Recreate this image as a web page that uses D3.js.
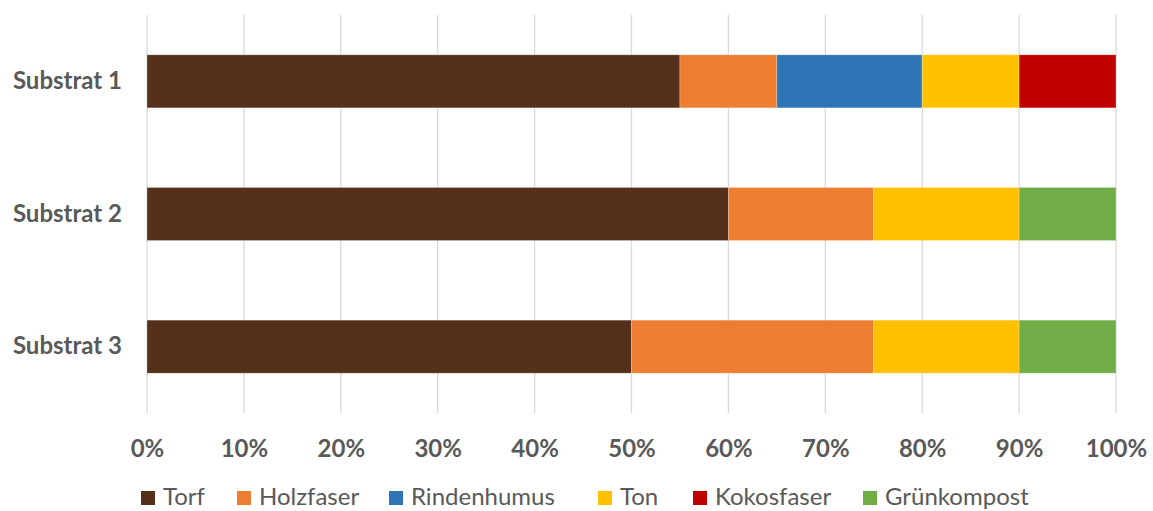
<!DOCTYPE html>
<html>
<head>
<meta charset="utf-8">
<script src="https://cdn.jsdelivr.net/npm/d3@7"></script>
<style>
  html, body { margin: 0; padding: 0; background: #fff; }
  svg { display: block; }
  text { font-family: Lato, "Open Sans", sans-serif; }
</style>
</head>
<body>
<svg id="chart" width="1153" height="511"></svg>
<script>
// Substrate composition, share of each component in percent
const categories = ["Substrat 1", "Substrat 2", "Substrat 3"];
const components = ["Torf", "Holzfaser", "Rindenhumus", "Ton", "Kokosfaser", "Grünkompost"];
const torf        = [55, 60, 50];
const holzfaser   = [10, 15, 25];
const rindenhumus = [15, 0, 0];
const ton         = [10, 15, 15];
const kokosfaser  = [10, 0, 0];
const gruenkompost = [0, 10, 10];
const colors = ["#55301A", "#ED7D31", "#2E75B6", "#FFC000", "#C00000", "#70AD47"];
const tickValues = [0, 10, 20, 30, 40, 50, 60, 70, 80, 90, 100];

const seriesValues = [torf, holzfaser, rindenhumus, ton, kokosfaser, gruenkompost];
const rows = categories.map((c, i) => {
  const r = { category: c };
  components.forEach((k, j) => { r[k] = seriesValues[j][i]; });
  return r;
});

const svg = d3.select("#chart");
const plotLeft = 147, plotRight = 1116, plotTop = 15, plotBottom = 413;
const fontSize = 24;

const x = d3.scaleLinear().domain([0, 100]).range([plotLeft, plotRight]);
const y = d3.scaleBand().domain(categories).range([plotTop, plotBottom]).paddingInner(0.6).paddingOuter(0.3);

// vertical gridlines
svg.append("g")
  .selectAll("line")
  .data(tickValues)
  .join("line")
  .attr("x1", d => x(d)).attr("x2", d => x(d))
  .attr("y1", plotTop).attr("y2", plotBottom)
  .attr("stroke", "#D9D9D9").attr("stroke-width", 1.3);

// stacked bars
const stack = d3.stack().keys(components)(rows);
const color = d3.scaleOrdinal().domain(components).range(colors);

svg.append("g")
  .selectAll("g")
  .data(stack)
  .join("g")
  .attr("fill", d => color(d.key))
  .selectAll("rect")
  .data(d => d.filter(p => p[1] > p[0]))
  .join("rect")
  .attr("x", d => x(d[0]))
  .attr("width", d => x(d[1]) - x(d[0]))
  .attr("y", d => y(d.data.category))
  .attr("height", y.bandwidth())
  .attr("stroke", "#ffffff").attr("stroke-opacity", 0.35).attr("stroke-width", 0.8);

// x axis labels
const xAxis = d3.axisBottom(x).tickValues(tickValues).tickFormat(d => d + "%").tickSize(0).tickPadding(0);
const gx = svg.append("g").attr("transform", `translate(0, 457)`).call(xAxis);
gx.select(".domain").remove();
gx.selectAll("text")
  .attr("dy", 0)
  .attr("y", 0)
  .attr("fill", "#595959")
  .attr("font-size", fontSize)
  .attr("font-weight", "bold")
  .attr("font-family", "Lato, 'Open Sans', sans-serif");

// category labels
const yAxis = d3.axisLeft(y).tickSize(0).tickPadding(0);
const gy = svg.append("g").attr("transform", `translate(122, 0)`).call(yAxis);
gy.select(".domain").remove();
gy.selectAll("text")
  .attr("fill", "#595959")
  .attr("font-size", fontSize)
  .attr("font-weight", "bold")
  .attr("font-family", "Lato, 'Open Sans', sans-serif");

// legend
const legendX = [141, 237, 389, 598, 693, 863];
const legend = svg.append("g");
const items = legend.selectAll("g")
  .data(components)
  .join("g")
  .attr("transform", (d, i) => `translate(${legendX[i]}, 505)`);
items.append("rect")
  .attr("x", 0).attr("y", -14).attr("width", 14).attr("height", 14)
  .attr("fill", d => color(d));
items.append("text")
  .attr("x", 22).attr("y", 0)
  .attr("fill", "#595959")
  .attr("font-size", fontSize)
  .text(d => d);
</script>
</body>
</html>
